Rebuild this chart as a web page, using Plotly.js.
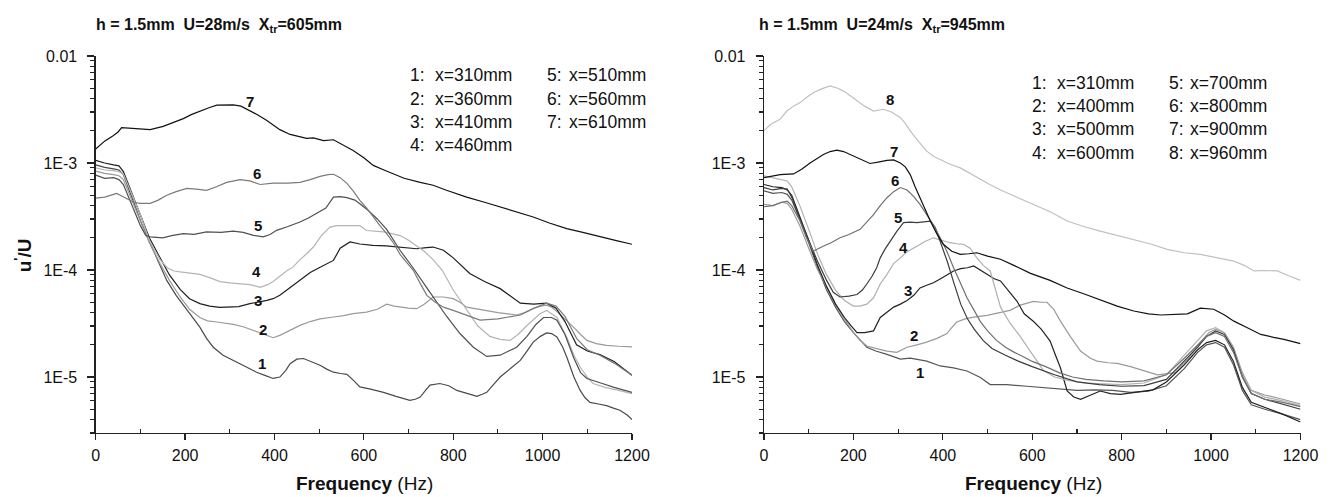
<!DOCTYPE html>
<html><head><meta charset="utf-8">
<script src="https://cdn.plot.ly/plotly-3.0.1.min.js"></script>
<style>html,body{margin:0;padding:0;background:#fff}#chart{width:1335px;height:497px}</style>
</head><body><div id="chart"></div>
<script>
// ---------- DATA ----------
const leftTitle = "h = 1.5mm  U=28m/s  X<sub>tr</sub>=605mm";
const rightTitle = "h = 1.5mm  U=24m/s  X<sub>tr</sub>=945mm";
const leftStations = [310, 360, 410, 460, 510, 560, 610];
const rightStations = [310, 400, 500, 600, 700, 800, 900, 960];
const xTicks = [0, 200, 400, 600, 800, 1000, 1200];
const yTickVals = [1e-5, 1e-4, 1e-3, 1e-2];
const yTickText = ["1E-5", "1E-4", "1E-3", "0.01"];

// Left panel (U=28 m/s)
const L1_f = [0,20,40,52,62,80,100,120,140,159,180,200,215,233,248,263,285,308,323,345,360,380,397,412,425,435,450,465,485,502,518,532,548,562,578,591,615,644,672,703,715,726,738,748,770,790,808,830,853,865,875,890,905,928,950,965,979,995,1009,1020,1032,1045,1054,1070,1084,1095,1106,1125,1143,1160,1173,1190,1200];
const L1_u = [9.6e-4,9.1e-4,8.8e-4,8.6e-4,7.8e-4,4.8e-4,2.9e-4,1.85e-4,1.2e-4,8.0e-5,5.8e-5,4.5e-5,3.7e-5,2.93e-5,2.3e-5,1.9e-5,1.6e-5,1.43e-5,1.33e-5,1.2e-5,1.11e-5,1.03e-5,9.7e-6,1.0e-5,1.15e-5,1.33e-5,1.47e-5,1.49e-5,1.38e-5,1.29e-5,1.18e-5,1.11e-5,1.08e-5,1.06e-5,9.2e-6,8.1e-6,7.7e-6,7.2e-6,6.6e-6,6.05e-6,6.2e-6,6.5e-6,7.5e-6,8.4e-6,8.7e-6,8.3e-6,7.5e-6,7.0e-6,6.6e-6,6.9e-6,7.2e-6,8.5e-6,1.0e-5,1.2e-5,1.43e-5,1.75e-5,2.12e-5,2.4e-5,2.58e-5,2.55e-5,2.37e-5,1.9e-5,1.54e-5,1.0e-5,7.5e-6,6.4e-6,5.8e-6,5.6e-6,5.4e-6,5.1e-6,4.9e-6,4.4e-6,4.0e-6];
const L2_f = [0,20,40,52,62,80,100,120,144,165,189,210,233,250,271,290,308,330,353,383,397,412,427,442,457,480,502,532,555,576,606,630,651,668,681,700,718,735,755,778,800,815,830,850,867,900,942,960,979,995,1009,1020,1032,1050,1069,1085,1099,1120,1143,1170,1200];
const L2_u = [8.4e-4,8.0e-4,7.8e-4,7.6e-4,7.0e-4,4.6e-4,2.9e-4,1.8e-4,1.15e-4,8.0e-5,5.6e-5,4.3e-5,3.6e-5,3.35e-5,3.27e-5,3.2e-5,3.11e-5,2.95e-5,2.73e-5,2.45e-5,2.33e-5,2.45e-5,2.63e-5,2.85e-5,3.04e-5,3.3e-5,3.5e-5,3.64e-5,3.75e-5,3.92e-5,4.05e-5,4.3e-5,4.8e-5,4.6e-5,4.5e-5,4.4e-5,4.35e-5,4.8e-5,5.6e-5,5.6e-5,5.4e-5,5.0e-5,4.5e-5,4.35e-5,4.2e-5,4.0e-5,3.8e-5,4.0e-5,4.36e-5,4.6e-5,4.7e-5,4.5e-5,4.1e-5,3.5e-5,2.93e-5,2.5e-5,2.2e-5,2.05e-5,1.98e-5,1.94e-5,1.91e-5];
const L3_f = [0,20,40,52,62,80,100,120,144,165,189,210,233,255,278,300,320,345,365,383,397,412,430,457,480,500,532,547,569,591,620,650,690,718,740,755,778,800,837,870,905,930,950,980,1009,1030,1050,1076,1100,1128,1160,1200];
const L3_u = [1.06e-3,1.0e-3,9.6e-4,9.4e-4,8.3e-4,5.3e-4,3.3e-4,2.0e-4,1.3e-4,9.0e-5,6.6e-5,5.4e-5,4.85e-5,4.6e-5,4.47e-5,4.5e-5,4.55e-5,4.85e-5,5.0e-5,5.2e-5,5.4e-5,5.8e-5,6.6e-5,8.0e-5,9.5e-5,1.05e-4,1.23e-4,1.6e-4,1.83e-4,1.75e-4,1.7e-4,1.68e-4,1.62e-4,1.58e-4,1.62e-4,1.64e-4,1.53e-4,1.3e-4,9.3e-5,7.8e-5,6.7e-5,5.6e-5,4.9e-5,4.8e-5,4.9e-5,4.4e-5,3.3e-5,2.0e-5,1.75e-5,1.62e-5,1.4e-5,1.04e-5];
const L4_f = [0,20,40,52,62,80,100,120,144,160,175,189,210,233,255,278,300,323,345,368,385,397,412,427,442,457,472,487,505,524,540,560,591,606,625,644,660,681,700,711,735,755,775,800,830,855,882,905,927,945,964,994,1009,1032,1055,1070,1084,1100,1113,1140,1170,1200];
const L4_u = [9.0e-4,8.6e-4,8.5e-4,8.3e-4,7.9e-4,5.2e-4,3.3e-4,1.9e-4,1.25e-4,1.05e-4,9.8e-5,9.6e-5,9.4e-5,9.1e-5,8.5e-5,7.8e-5,7.6e-5,7.5e-5,7.3e-5,6.9e-5,7.3e-5,7.8e-5,8.8e-5,9.8e-5,1.07e-4,1.25e-4,1.42e-4,1.64e-4,2.1e-4,2.52e-4,2.6e-4,2.6e-4,2.6e-4,2.34e-4,2.3e-4,2.27e-4,2.2e-4,2.1e-4,1.9e-4,1.77e-4,1.5e-4,1.25e-4,1.0e-4,6.5e-5,4.2e-5,3.0e-5,2.4e-5,2.25e-5,2.2e-5,2.5e-5,3.0e-5,3.9e-5,4.2e-5,3.6e-5,2.3e-5,1.6e-5,1.24e-5,1.0e-5,8.7e-6,8.0e-6,7.5e-6,7.0e-6];
const L5_f = [0,20,40,52,62,80,100,112,122,150,170,196,220,248,280,308,330,353,375,390,405,430,457,475,494,515,532,547,562,580,591,610,630,651,681,710,741,755,785,815,845,875,905,942,965,985,1002,1020,1032,1050,1070,1085,1099,1130,1160,1200];
const L5_u = [7.7e-4,7.2e-4,7.3e-4,7.0e-4,6.3e-4,4.2e-4,2.6e-4,2.1e-4,2.04e-4,2.0e-4,2.1e-4,2.19e-4,2.15e-4,2.27e-4,2.25e-4,2.31e-4,2.25e-4,2.11e-4,2.04e-4,2.15e-4,2.35e-4,2.55e-4,2.81e-4,3.05e-4,3.37e-4,3.8e-4,4.8e-4,4.85e-4,4.75e-4,4.5e-4,4.17e-4,3.6e-4,3.0e-4,2.4e-4,1.53e-4,1.05e-4,6.8e-5,5.6e-5,3.7e-5,2.55e-5,1.9e-5,1.56e-5,1.6e-5,1.9e-5,2.4e-5,3.1e-5,3.6e-5,3.6e-5,3.4e-5,2.5e-5,1.5e-5,1.1e-5,9.7e-6,8.8e-6,8.0e-6,7.2e-6];
const L6_f = [0,20,40,47,55,69,85,99,122,140,159,180,204,225,248,270,293,323,345,368,397,430,457,480,502,520,532,547,562,576,591,606,621,636,651,666,681,695,711,726,741,760,778,800,830,860,900,950,980,1009,1030,1050,1076,1100,1128,1160,1200];
const L6_u = [4.7e-4,4.8e-4,5.1e-4,5.2e-4,5.0e-4,4.65e-4,4.3e-4,4.2e-4,4.2e-4,4.5e-4,5.0e-4,5.4e-4,5.8e-4,5.7e-4,5.56e-4,6.0e-4,6.6e-4,7.0e-4,6.8e-4,6.3e-4,6.5e-4,6.5e-4,6.6e-4,7.0e-4,7.5e-4,7.8e-4,7.85e-4,7.3e-4,6.45e-4,5.5e-4,4.48e-4,3.8e-4,3.13e-4,2.6e-4,2.19e-4,1.8e-4,1.4e-4,1.2e-4,9.9e-5,7.5e-5,5.8e-5,5.0e-5,4.5e-5,4.2e-5,3.8e-5,3.4e-5,3.5e-5,3.8e-5,4.4e-5,4.9e-5,4.6e-5,3.7e-5,2.3e-5,1.8e-5,1.6e-5,1.35e-5,1.04e-5];
const L7_f = [0,4,20,39,50,58,90,122,151,175,196,215,233,255,271,290,308,325,338,360,383,400,412,435,457,472,487,510,532,555,576,600,621,645,666,690,726,755,785,830,870,905,940,979,1015,1054,1090,1128,1165,1200];
const L7_u = [1.35e-3,1.4e-3,1.6e-3,1.8e-3,1.95e-3,2.14e-3,2.1e-3,2.05e-3,2.2e-3,2.4e-3,2.6e-3,2.85e-3,3.06e-3,3.3e-3,3.47e-3,3.5e-3,3.5e-3,3.4e-3,3.2e-3,2.85e-3,2.5e-3,2.25e-3,2.05e-3,1.85e-3,1.75e-3,1.7e-3,1.72e-3,1.62e-3,1.65e-3,1.45e-3,1.31e-3,1.12e-3,9.5e-4,8.6e-4,7.9e-4,7.2e-4,6.6e-4,6.2e-4,5.56e-4,4.8e-4,4.3e-4,3.9e-4,3.5e-4,3.13e-4,2.75e-4,2.44e-4,2.25e-4,2.04e-4,1.88e-4,1.74e-4];

// Right panel (U=24 m/s)
const R1_f = [0,20,40,52,62,80,100,120,140,160,180,200,230,250,275,305,327,345,364,394,424,454,484,506,543,588,620,660,700,740,780,820,860,900,940,970,990,1010,1030,1050,1070,1090,1120,1160,1200];
const R1_u = [5.5e-4,5.2e-4,5.3e-4,5.1e-4,4.5e-4,3.0e-4,1.8e-4,1.05e-4,6.5e-5,4.5e-5,3.3e-5,2.6e-5,1.9e-5,1.75e-5,1.63e-5,1.47e-5,1.5e-5,1.45e-5,1.41e-5,1.27e-5,1.22e-5,1.14e-5,9.9e-6,8.5e-6,8.5e-6,8.2e-6,8.0e-6,7.8e-6,7.5e-6,7.6e-6,7.5e-6,7.2e-6,7.4e-6,8.3e-6,1.2e-5,1.7e-5,2.0e-5,2.1e-5,1.9e-5,1.3e-5,7.5e-6,5.5e-6,5.0e-6,4.5e-6,4.0e-6];
const R2_f = [0,20,40,52,62,80,100,120,140,160,180,200,215,230,250,275,297,320,342,364,387,409,420,431,450,469,499,529,550,573,603,620,633,648,663,685,708,730,745,770,790,820,850,880,920,950,975,995,1010,1030,1050,1070,1090,1120,1160,1200];
const R2_u = [4.1e-4,4.0e-4,4.3e-4,4.2e-4,3.7e-4,2.6e-4,1.6e-4,1.0e-4,7.0e-5,4.8e-5,3.5e-5,2.6e-5,2.2e-5,1.95e-5,1.85e-5,1.75e-5,1.7e-5,1.9e-5,2.0e-5,2.12e-5,2.3e-5,2.55e-5,2.9e-5,3.27e-5,3.5e-5,3.63e-5,3.77e-5,4.0e-5,4.2e-5,4.7e-5,5.1e-5,5.0e-5,5.0e-5,4.3e-5,3.33e-5,2.4e-5,1.75e-5,1.5e-5,1.41e-5,1.36e-5,1.34e-5,1.25e-5,1.15e-5,1.05e-5,1.1e-5,1.5e-5,2.1e-5,2.6e-5,2.8e-5,2.6e-5,1.9e-5,1.1e-5,7.5e-6,6.8e-6,6.2e-6,5.6e-6];
const R3_f = [0,20,40,52,62,80,100,120,140,160,180,195,208,225,245,260,275,290,305,320,335,349,364,379,395,409,424,440,455,469,484,500,515,529,545,566,582,603,620,640,652,663,678,693,708,730,752,775,797,830,870,900,940,970,990,1010,1030,1050,1070,1090,1120,1160,1200];
const R3_u = [6.3e-4,6.0e-4,5.9e-4,5.6e-4,5.0e-4,3.2e-4,1.9e-4,1.1e-4,7.0e-5,4.8e-5,3.6e-5,3.0e-5,2.6e-5,2.6e-5,2.7e-5,3.6e-5,4.0e-5,4.5e-5,4.8e-5,5.2e-5,5.8e-5,6.8e-5,7.2e-5,7.6e-5,8.3e-5,9.0e-5,9.8e-5,1.03e-4,1.05e-4,1.09e-4,1.0e-4,9.0e-5,8.3e-5,7.9e-5,6.5e-5,5.1e-5,3.9e-5,3.3e-5,2.8e-5,2.17e-5,1.6e-5,1.22e-5,7.4e-6,6.5e-6,6.2e-6,6.8e-6,7.4e-6,7.0e-6,6.9e-6,7.2e-6,7.6e-6,9.0e-6,1.3e-5,1.8e-5,2.1e-5,2.2e-5,2.0e-5,1.4e-5,8.0e-6,5.8e-6,5.2e-6,4.5e-6,3.8e-6];
const R4_f = [0,20,40,52,62,80,100,120,140,160,180,200,215,230,245,260,275,290,305,320,342,360,379,398,416,431,446,461,476,491,506,529,550,573,603,625,650,680,720,760,800,850,900,940,970,990,1010,1030,1050,1070,1090,1120,1160,1200];
const R4_u = [7.6e-4,7.3e-4,7.0e-4,6.8e-4,6.0e-4,4.0e-4,2.4e-4,1.4e-4,9.0e-5,6.5e-5,5.2e-5,4.6e-5,4.6e-5,4.8e-5,5.5e-5,7.4e-5,9.1e-5,1.15e-4,1.3e-4,1.48e-4,1.67e-4,1.85e-4,2.0e-4,1.9e-4,1.8e-4,1.76e-4,1.74e-4,1.6e-4,1.3e-4,1.1e-4,9.8e-5,4.5e-5,3.2e-5,2.4e-5,1.55e-5,1.15e-5,1.0e-5,9.3e-6,8.8e-6,8.6e-6,8.5e-6,8.8e-6,1.05e-5,1.6e-5,2.2e-5,2.7e-5,2.9e-5,2.6e-5,1.8e-5,1.05e-5,7.5e-6,6.5e-6,6.0e-6,5.4e-6];
const R5_f = [0,20,40,52,62,80,100,120,140,155,170,190,208,220,230,242,252,260,270,282,297,312,327,342,357,372,383,394,410,425,440,455,470,490,510,540,570,600,650,700,750,800,850,900,940,970,990,1010,1030,1050,1070,1090,1120,1160,1200];
const R5_u = [5.9e-4,5.6e-4,5.8e-4,5.7e-4,4.8e-4,3.0e-4,1.9e-4,1.2e-4,8.0e-5,6.2e-5,5.6e-5,5.7e-5,5.9e-5,6.5e-5,7.4e-5,8.8e-5,1.05e-4,1.3e-4,1.55e-4,1.87e-4,2.3e-4,2.77e-4,2.8e-4,2.77e-4,2.8e-4,2.87e-4,2.5e-4,1.87e-4,1.2e-4,7.5e-5,4.8e-5,3.5e-5,2.8e-5,2.2e-5,1.85e-5,1.6e-5,1.4e-5,1.25e-5,1.05e-5,9.0e-6,8.5e-6,8.2e-6,8.3e-6,9.5e-6,1.4e-5,1.9e-5,2.4e-5,2.7e-5,2.5e-5,1.8e-5,1.0e-5,7.0e-6,6.2e-6,5.6e-6,5.0e-6];
const R6_f = [0,20,40,52,62,80,95,110,130,150,170,190,215,230,245,260,275,290,305,320,334,349,364,380,394,409,424,440,454,470,484,500,520,540,560,580,600,630,660,690,720,760,800,850,900,940,970,990,1010,1030,1050,1070,1090,1120,1160,1200];
const R6_u = [3.9e-4,4.0e-4,4.3e-4,4.4e-4,4.0e-4,2.9e-4,2.0e-4,1.5e-4,1.65e-4,1.8e-4,2.0e-4,2.15e-4,2.4e-4,2.8e-4,3.3e-4,4.0e-4,4.74e-4,5.4e-4,5.9e-4,5.6e-4,4.9e-4,4.1e-4,3.3e-4,2.6e-4,2.0e-4,1.5e-4,1.05e-4,7.5e-5,5.5e-5,4.2e-5,3.3e-5,2.7e-5,2.2e-5,1.9e-5,1.7e-5,1.55e-5,1.4e-5,1.25e-5,1.1e-5,1.0e-5,9.5e-6,9.2e-6,9.0e-6,9.2e-6,1.05e-5,1.5e-5,2.0e-5,2.4e-5,2.6e-5,2.4e-5,1.7e-5,1.0e-5,7.0e-6,6.2e-6,5.8e-6,5.3e-6];
const R7_f = [0,36,66,85,103,118,133,148,163,178,193,215,237,255,275,290,305,316,327,338,349,360,372,386,401,420,439,458,476,500,529,560,596,640,678,715,752,790,827,860,887,917,947,976,1006,1030,1051,1080,1111,1140,1163,1200];
const R7_u = [7.3e-4,7.8e-4,7.9e-4,8.8e-4,1.0e-3,1.1e-3,1.2e-3,1.28e-3,1.32e-3,1.28e-3,1.2e-3,1.08e-3,9.9e-4,1.02e-3,1.06e-3,1.07e-3,1.0e-3,9.2e-4,7.8e-4,6.0e-4,4.7e-4,3.6e-4,2.87e-4,2.2e-4,1.74e-4,1.5e-4,1.4e-4,1.42e-4,1.45e-4,1.35e-4,1.26e-4,1.1e-4,9.3e-5,8.0e-5,6.8e-5,6.0e-5,5.3e-5,4.6e-5,4.14e-5,3.9e-5,3.8e-5,3.85e-5,3.9e-5,4.4e-5,4.3e-5,3.8e-5,3.33e-5,2.9e-5,2.5e-5,2.35e-5,2.25e-5,2.05e-5];
const R8_f = [0,15,36,51,66,81,95,110,130,148,165,178,193,208,225,245,267,285,305,316,327,345,364,380,394,415,439,460,484,505,529,560,596,640,678,715,752,790,827,865,902,940,976,1015,1051,1075,1096,1120,1148,1175,1200];
const R8_u = [2.0e-3,2.3e-3,2.56e-3,3.06e-3,3.4e-3,3.67e-3,4.1e-3,4.54e-3,4.95e-3,5.25e-3,5.0e-3,4.7e-3,4.25e-3,3.8e-3,3.4e-3,3.06e-3,3.18e-3,3.0e-3,2.65e-3,2.35e-3,2.0e-3,1.6e-3,1.29e-3,1.15e-3,1.08e-3,9.8e-4,9.0e-4,8.0e-4,7.0e-4,6.3e-4,5.6e-4,4.9e-4,4.2e-4,3.5e-4,2.87e-4,2.55e-4,2.31e-4,2.1e-4,1.94e-4,1.75e-4,1.56e-4,1.45e-4,1.4e-4,1.3e-4,1.21e-4,1.1e-4,9.8e-5,9.9e-5,9.8e-5,8.8e-5,8.0e-5];

// curve number label anchors [frequency, u'/U]
const leftLabelF = [373, 375, 363, 359, 363, 360, 345];
const leftLabelU = [1.33e-5, 2.77e-5, 5.2e-5, 9.6e-5, 2.62e-4, 7.96e-4, 3.72e-3];
const rightLabelF = [349, 335, 322, 312, 300, 292, 290, 281];
const rightLabelU = [1.1e-5, 2.42e-5, 6.4e-5, 1.62e-4, 3.08e-4, 6.8e-4, 1.29e-3, 3.94e-3];

// ---------- STYLE / BUILD ----------
const leftColors = ['#4a4a4a','#9a9a9a','#1e1e1e','#b4b4b4','#505050','#7a7a7a','#111111'];
const rightColors = ['#555555','#9a9a9a','#222222','#b0b0b0','#3c3c3c','#707070','#111111','#c0c0c0'];
const leftF = [L1_f,L2_f,L3_f,L4_f,L5_f,L6_f,L7_f];
const leftU = [L1_u,L2_u,L3_u,L4_u,L5_u,L6_u,L7_u];
const rightF = [R1_f,R2_f,R3_f,R4_f,R5_f,R6_f,R7_f,R8_f];
const rightU = [R1_u,R2_u,R3_u,R4_u,R5_u,R6_u,R7_u,R8_u];

const traces = [];
leftF.forEach((f,i)=>traces.push({x:f,y:leftU[i],type:'scatter',mode:'lines',xaxis:'x',yaxis:'y',
  line:{color:leftColors[i],width:1.2},hoverinfo:'skip',showlegend:false}));
rightF.forEach((f,i)=>traces.push({x:f,y:rightU[i],type:'scatter',mode:'lines',xaxis:'x2',yaxis:'y2',
  line:{color:rightColors[i],width:1.2},hoverinfo:'skip',showlegend:false}));

const W = 1335, H = 497, TOP = 55.7, BOT = 432.7;
const px = x => x / W;
const py = y => (BOT - y) / (BOT - TOP);
const FONT = 'Liberation Sans, Arial, Helvetica, sans-serif';

const minorVals = [];
for (let e = -6; e <= -3; e++) for (let m = 2; m <= 9; m++) minorVals.push(m * Math.pow(10, e));

function xAxis(domain, anchor){
  return {domain:domain, anchor:anchor, range:[0,1200], tickmode:'array', tickvals:xTicks,
    ticks:'outside', ticklen:6, tickwidth:1.2, tickcolor:'#222', showline:true, linecolor:'#222', linewidth:1.3,
    showgrid:false, zeroline:false, tickfont:{family:FONT,size:16,color:'#111'}, ticklabelstandoff:1,
    minor:{tickmode:'array', tickvals:[100,300,500,700,900,1100], ticks:'inside', ticklen:4, tickwidth:1.1, tickcolor:'#222', showgrid:false},
    fixedrange:true};
}
function yAxis(anchor){
  return {type:'log', domain:[0,1], anchor:anchor, range:[Math.log10(3e-6), -2], tickmode:'array',
    tickvals:yTickVals, ticktext:yTickText, ticks:'outside', ticklen:7, tickwidth:1.2, tickcolor:'#222',
    showline:true, linecolor:'#222', linewidth:1.3, showgrid:false, zeroline:false,
    tickfont:{family:FONT,size:16,color:'#111'}, ticklabelstandoff:7,
    minor:{tickmode:'array', tickvals:minorVals, ticks:'outside', ticklen:4, tickwidth:1.1, tickcolor:'#222', showgrid:false},
    fixedrange:true};
}

const ann = [];
function txt(x, y, t, size, opts){
  ann.push(Object.assign({xref:'paper', yref:'paper', x:px(x), y:py(y), text:t, showarrow:false,
    xanchor:'left', yanchor:'middle', font:{family:FONT, size:size, color:'#111'}}, opts||{}));
}
// panel titles
txt(94, 25, '<b>'+leftTitle+'</b>', 16);
txt(757, 25, '<b>'+rightTitle+'</b>', 16);
// axis titles
txt(364, 483, '<b>Frequency</b> (Hz)', 19, {xanchor:'center'});
txt(1033, 483, '<b>Frequency</b> (Hz)', 19, {xanchor:'center'});
txt(23, 255, "<b>u<sup>'</sup>/U</b>", 19, {xanchor:'center', textangle:-90});
// stations legend text
const lRows = [75, 98.3, 121.7, 145];
leftStations.forEach((s,i)=>{
  const col = i < 4 ? 0 : 1, row = i < 4 ? i : i - 4;
  txt(col ? 545 : 408, lRows[row], (i+1)+':', 17.5);
  txt(col ? 566.5 : 433, lRows[row], 'x='+s+'mm', 17.5);
});
const rRows = [82.3, 105.7, 129, 152.3];
rightStations.forEach((s,i)=>{
  const col = i < 4 ? 0 : 1, row = i < 4 ? i : i - 4;
  txt(col ? 1166.7 : 1030, rRows[row], (i+1)+':', 17.5);
  txt(col ? 1188.3 : 1055, rRows[row], 'x='+s+'mm', 17.5);
});
// curve numbers
leftLabelF.forEach((f,i)=>ann.push({xref:'x', yref:'y', x:f, y:Math.log10(leftLabelU[i]), text:'<b>'+(i+1)+'</b>',
  showarrow:false, font:{family:FONT,size:15,color:'#111'}}));
rightLabelF.forEach((f,i)=>ann.push({xref:'x2', yref:'y2', x:f, y:Math.log10(rightLabelU[i]), text:'<b>'+(i+1)+'</b>',
  showarrow:false, font:{family:FONT,size:15,color:'#111'}}));

const layout = {
  width:W, height:H, margin:{l:0, r:0, t:TOP, b:H-BOT}, paper_bgcolor:'#fff', plot_bgcolor:'#fff',
  showlegend:false,
  xaxis: xAxis([95.7/W, 632/W], 'y'),
  yaxis: yAxis('x'),
  xaxis2: xAxis([764/W, 1300.5/W], 'y2'),
  yaxis2: yAxis('x2'),
  annotations: ann
};
Plotly.newPlot('chart', traces, layout, {staticPlot:true, displayModeBar:false});
</script></body></html>
